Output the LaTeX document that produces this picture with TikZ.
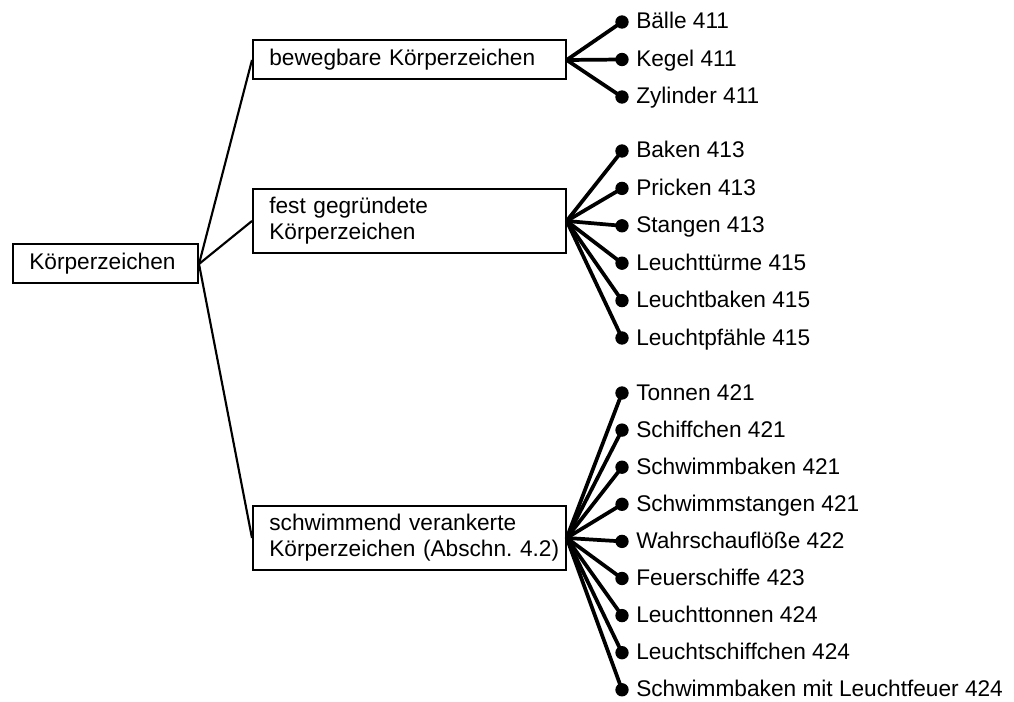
\documentclass[tikz,border=0pt]{standalone}
\usepackage{fontspec}
\setmainfont{Liberation Sans}
% one unbreakable line of box text with its left margin
\newcommand\boxline[1]{\hspace*{6.5pt}\mbox{#1}}
\begin{document}
\begin{tikzpicture}[x=0.75pt,y=-0.75pt,
  every node/.style={font=\fontsize{17}{19.5}\selectfont\frenchspacing},
  box/.style={draw, line width=1.5pt, align=left, inner xsep=5.75pt,
    inner ysep=6pt, minimum height=29.25pt, text width=#1, anchor=west},
  box/.default=223pt,
  dot/.style={circle, fill=black, inner sep=0pt, minimum size=10pt},
  leaftext/.style={anchor=west, inner sep=0pt, text height=12.5pt, text depth=3.5pt},
  conn/.style={line width=2.8pt},
  rootconn/.style={line width=1.6pt}]
\useasboundingbox (0,0) rectangle (1014,702);

% root and the three classes
\node[box=127.25pt] (root) at (12,264) {\boxline{Körperzeichen}};
\node[box] (bew) at (252,60) {\boxline{bewegbare Körperzeichen}};
\node[box] (fest) at (252,221) {\boxline{fest gegründete}\\\boxline{Körperzeichen}};
\node[box] (schw) at (252,538) {\boxline{schwimmend verankerte}\\\boxline{Körperzeichen (Abschn. 4.2)}};

\foreach \b in {bew,fest,schw}
  \draw[rootconn] (root.east) -- (\b.west);

% leaves of each class: dot, label, connector
\foreach \t [count=\i] in {Bälle 411, Kegel 411, Zylinder 411} {
  \node[dot] (a\i) at (622,{22+37.5*(\i-1)}) {};
  \node[leaftext] (at\i) at (636,{23+37.5*(\i-1)}) {\t};
  \draw[conn] (bew.east) -- (a\i.center);
}
\foreach \t [count=\i] in {Baken 413, Pricken 413, Stangen 413,
    Leuchttürme 415, Leuchtbaken 415, Leuchtpfähle 415} {
  \node[dot] (f\i) at (622,{151+37.4*(\i-1)}) {};
  \node[leaftext] (ft\i) at (636,{152+37.4*(\i-1)}) {\t};
  \draw[conn] (fest.east) -- (f\i.center);
}
\foreach \t [count=\i] in {Tonnen 421, Schiffchen 421, Schwimmbaken 421,
    Schwimmstangen 421, Wahrschauflöße 422, Feuerschiffe 423,
    Leuchttonnen 424, Leuchtschiffchen 424, Schwimmbaken mit Leuchtfeuer 424} {
  \node[dot] (s\i) at (622,{393+37.1*(\i-1)}) {};
  \node[leaftext] (st\i) at (636,{394+37.1*(\i-1)}) {\t};
  \draw[conn] (schw.east) -- (s\i.center);
}
\end{tikzpicture}
\end{document}
